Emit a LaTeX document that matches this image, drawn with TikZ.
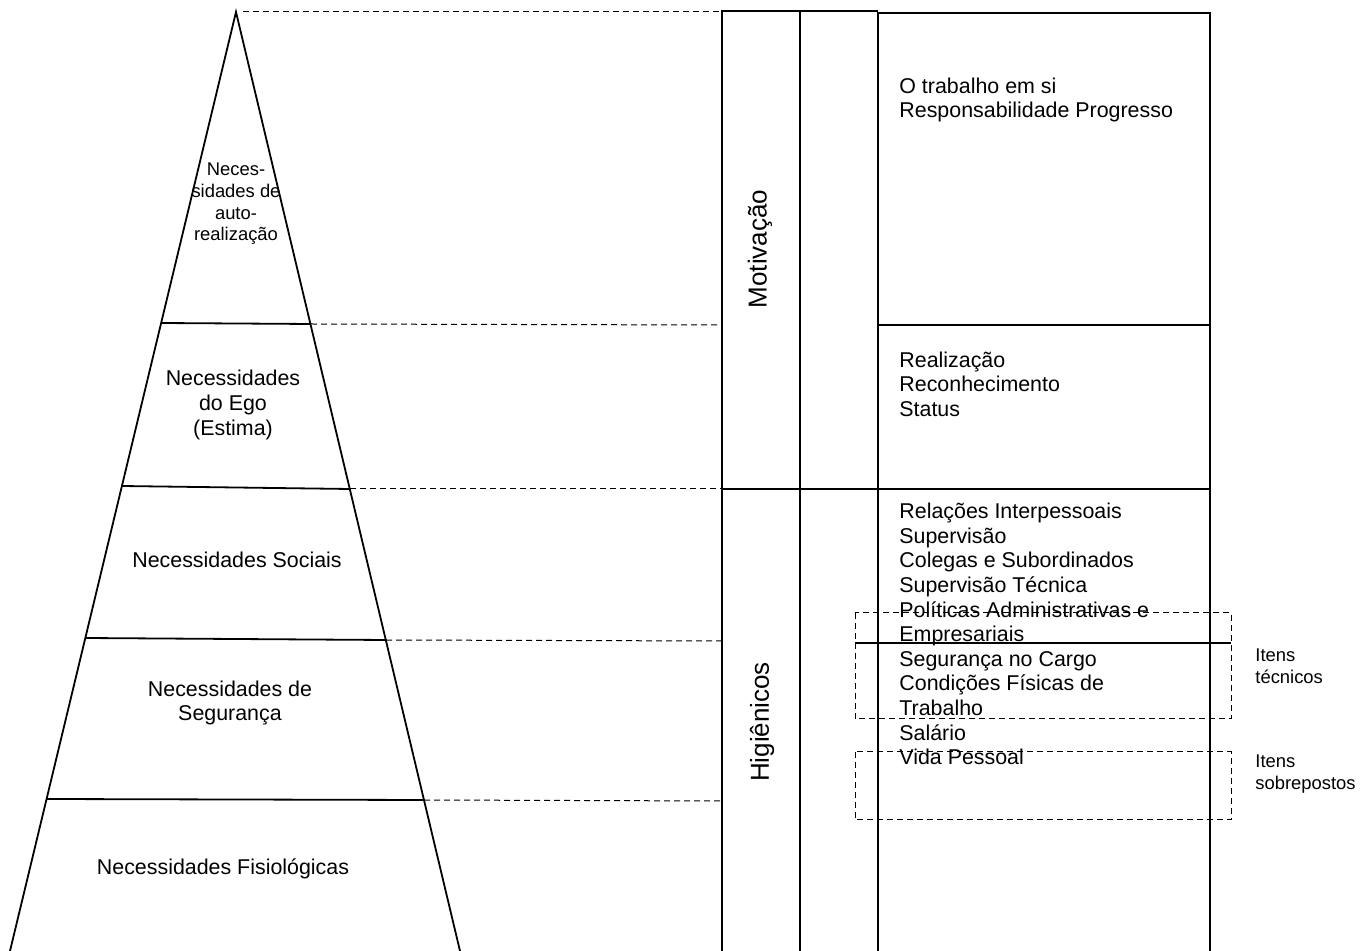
\documentclass[tikz,border=0pt]{standalone}
\usepackage{fontspec}
\setmainfont{Liberation Sans}
\usepackage{tikz}
\usetikzlibrary{positioning}

\begin{document}
\begin{tikzpicture}[
    x=0.5pt, y=-0.5pt,
    level_style/.style={line width=0.9pt},
    cell_style/.style={line width=1pt},
    guide_style/.style={line width=0.5pt, dash pattern=on 3pt off 2pt},
    need_style/.style={font=\fontsize{10.7}{12.3}\selectfont, align=center, inner sep=0pt},
    small_style/.style={font=\fontsize{9.2}{10.8}\selectfont, align=center, inner sep=0pt},
    item_style/.style={font=\fontsize{10.7}{12.3}\selectfont, align=left, anchor=west, inner sep=0pt},
    side_style/.style={font=\fontsize{9.2}{11}\selectfont, align=left, inner sep=0pt},
    group_style/.style={font=\fontsize{13}{15}\selectfont, rotate=90, inner sep=0pt}
]
    \useasboundingbox (0,0) rectangle (1372,951);

    % Coordinates
    \coordinate (apex) at (236,12);
    \coordinate (base_l) at (10,951);
    \coordinate (base_r) at (460,951);
    \coordinate (ego_l) at (161,323);
    \coordinate (ego_r) at (311,324);
    \coordinate (soc_l) at (122,486);
    \coordinate (soc_r) at (350,489);
    \coordinate (seg_l) at (85,638);
    \coordinate (seg_r) at (386,640);
    \coordinate (fis_l) at (47,799);
    \coordinate (fis_r) at (424,800);

    \coordinate (col_top) at (722,12);
    \coordinate (col_ego) at (722,325);
    \coordinate (col_soc) at (722,489);
    \coordinate (col_seg) at (722,641);
    \coordinate (col_fis) at (722,801);

    \coordinate (tec_r) at (1231,666);
    \coordinate (sob_r) at (1231,774);

    % Pyramid
    \draw[level_style] (base_l) -- (apex) -- (base_r);
    \draw[level_style] (ego_l) -- (ego_r);
    \draw[level_style] (soc_l) -- (soc_r);
    \draw[level_style] (seg_l) -- (seg_r);
    \draw[level_style] (fis_l) -- (fis_r);

    % Dashed guides
    \draw[guide_style, shorten <=3.5pt] (apex) -- (col_top);
    \draw[guide_style] (ego_r) -- (col_ego);
    \draw[guide_style] (soc_r) -- (col_soc);
    \draw[guide_style] (seg_r) -- (col_seg);
    \draw[guide_style] (fis_r) -- (col_fis);

    % Columns
    \draw[cell_style] (722,955) -- (722,11) -- (878,11);
    \draw[cell_style] (800,11) -- (800,955);
    \draw[cell_style] (878,955) -- (878,13) -- (1210,13) -- (1210,955);
    \draw[cell_style] (878,325) -- (1210,325);
    \draw[cell_style] (722,489) -- (1210,489);
    \draw[cell_style] (855,643) -- (1231,643);

    % Item groups
    \draw[guide_style] (855,613) rectangle (1231,719);
    \draw[guide_style] (855,752) rectangle (1231,820);

    % Labels
    \node[small_style] (auto_txt) at (236,204) {Neces-\\sidades de\\auto-\\realização};
    \node[need_style] (ego_txt) at (233,405) {Necessidades\\do Ego\\(Estima)};
    \node[need_style] (soc_txt) at (237,560) {Necessidades Sociais};
    \node[need_style] (seg_txt) at (230,703) {Necessidades de\\Segurança};
    \node[need_style] (fis_txt) at (223,869) {Necessidades Fisiológicas};

    \node[group_style] (mot_txt) at (760,249) {Motivação};
    \node[group_style] (hig_txt) at (762,722) {Higiênicos};

    \node[item_style] (top_items) at (899,100) {O trabalho em si\\Responsabilidade Progresso};
    \node[item_style] (ego_items) at (899,384) {Realização\\Reconhecimento\\Status};
    \node[item_style] (hyg_items) at (899,634) {Relações Interpessoais\\Supervisão\\Colegas e Subordinados\\Supervisão Técnica\\Políticas Administrativas e\\Empresariais\\Segurança no Cargo\\Condições Físicas de\\Trabalho\\Salário\\Vida Pessoal};

    \node[side_style, right=12pt of tec_r] (tec_txt) {Itens\\técnicos};
    \node[side_style, right=12pt of sob_r] (sob_txt) {Itens\\sobrepostos};
\end{tikzpicture}
\end{document}
